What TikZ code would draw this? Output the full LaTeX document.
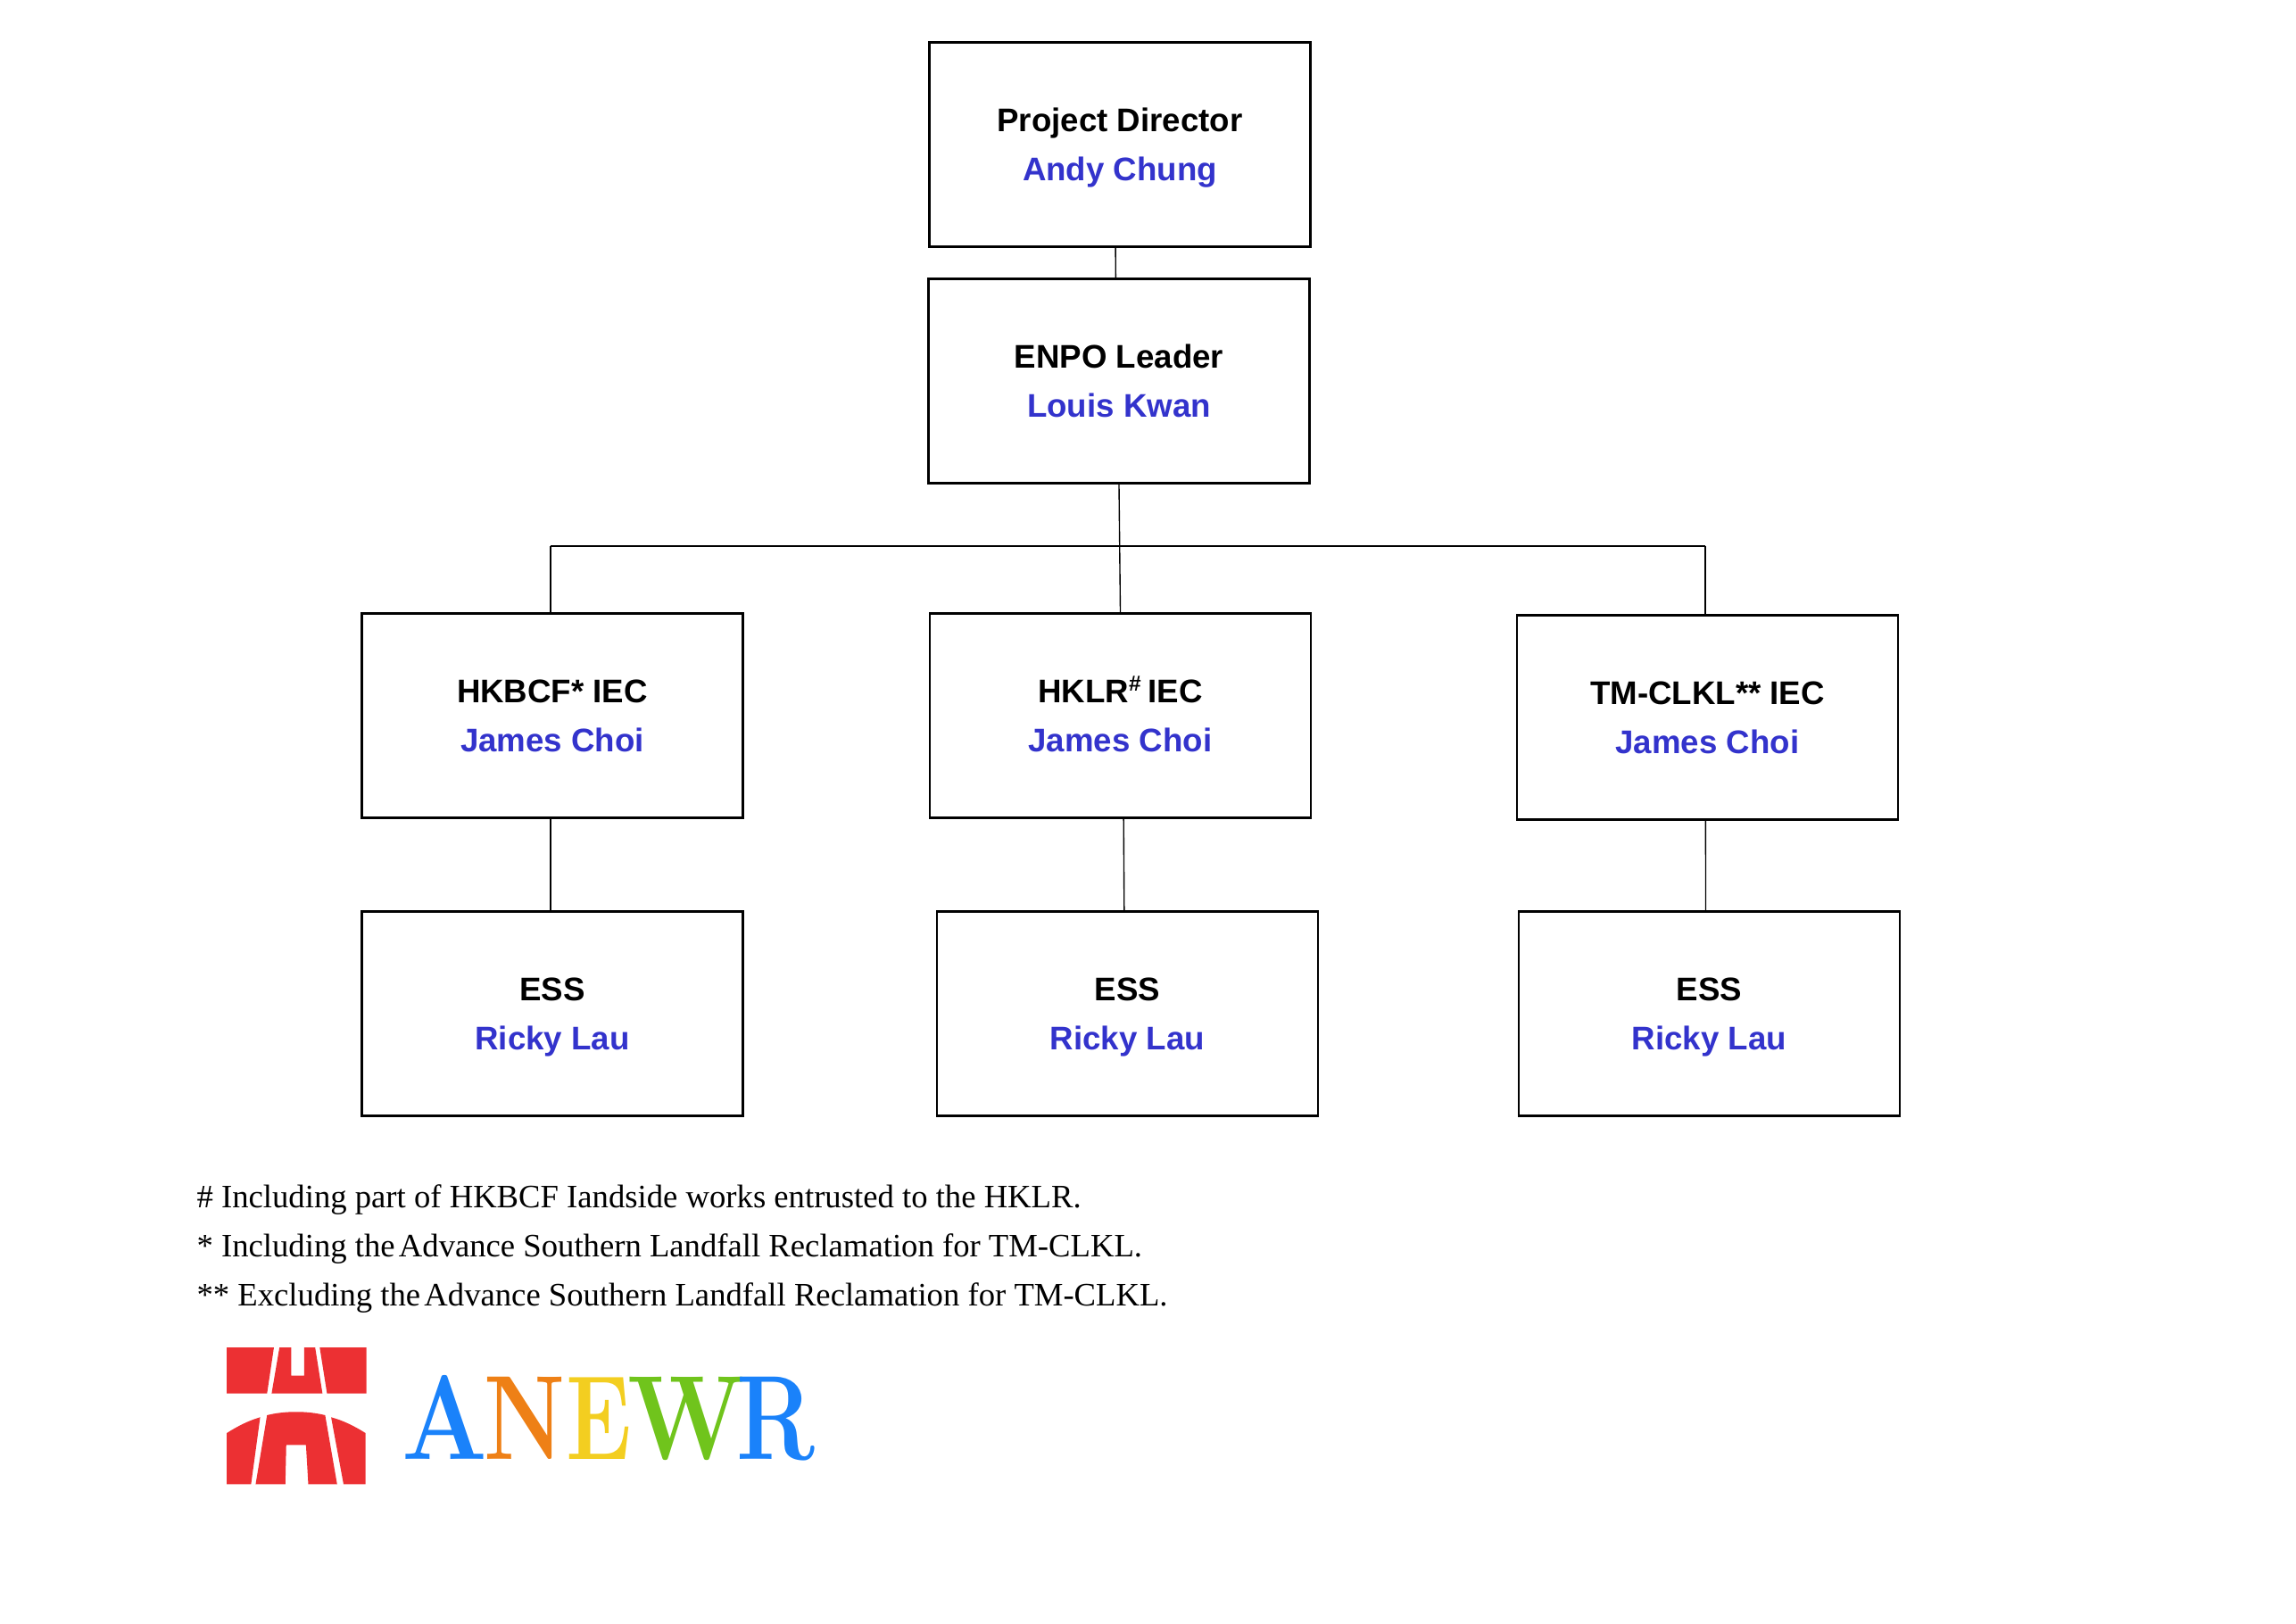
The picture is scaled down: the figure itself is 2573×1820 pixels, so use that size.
\documentclass[tikz,border=0pt]{standalone}
\usepackage{fontspec}
\newfontfamily\boxfont{Liberation Sans}
\newfontfamily\notefont{Liberation Serif}
\definecolor{nameblue}{HTML}{3333CC}
\definecolor{logored}{HTML}{EC3033}
\definecolor{logoblue}{HTML}{1A82FA}
\definecolor{logoorange}{HTML}{EE8016}
\definecolor{logoyellow}{HTML}{F3CE20}
\definecolor{logogreen}{HTML}{70C41C}
\tikzset{
  orgbox/.style={draw, line width=0.85pt, minimum width=139.7pt, minimum height=75pt, inner sep=0pt, align=center, font=\boxfont\bfseries\fontsize{12}{18}\selectfont},
  linkline/.style={line width=0.45pt},
  noteline/.style={anchor=base west, inner sep=0pt, font=\notefont\fontsize{12}{14}\selectfont},
  logoletter/.style={anchor=base, inner sep=0pt, font=\bfseries\fontsize{44}{44}\selectfont}
}
\newcommand{\orgtext}[2]{\rule{0pt}{13.2pt}#1\\\rule[-4.8pt]{0pt}{4.8pt}\textcolor{nameblue}{#2}}
\newcommand{\logoglyph}[2]{\scalebox{#1}[1]{#2}}
\begin{document}
\begin{tikzpicture}[x=0.3272pt,y=-0.3272pt]
\useasboundingbox (0,0) rectangle (2573,1820);
\node[orgbox] (director) at (1255,162) {\orgtext{Project Director}{Andy Chung}};
\node[orgbox] (enpo) at (1254,427) {\orgtext{ENPO Leader}{Louis Kwan}};
\node[orgbox] (hkbcf) at (619,802) {\orgtext{HKBCF* IEC}{James Choi}};
\node[orgbox] (hklr) at (1255.5,802) {\orgtext{HKLR\textsuperscript{\#}\,IEC}{James Choi}};
\node[orgbox] (tmclkl) at (1913.5,804) {\orgtext{TM-CLKL** IEC}{James Choi}};
\node[orgbox] (essa) at (619,1136) {\orgtext{ESS}{Ricky Lau}};
\node[orgbox] (essb) at (1263.5,1136) {\orgtext{ESS}{Ricky Lau}};
\node[orgbox] (essc) at (1915.5,1136) {\orgtext{ESS}{Ricky Lau}};
\coordinate (branchl) at (617,612);
\coordinate (branchr) at (1911,612);
\draw[linkline] ([xshift=-1.6pt]director.south) -- ([xshift=-1.2pt]enpo.north);
\draw[linkline] (enpo.south) -- (hklr.north);
\draw[linkline] (branchl) -- (branchr);
\draw[linkline] (branchl) -- (branchl |- hkbcf.north);
\draw[linkline] (branchr) -- (branchr |- tmclkl.north);
\draw[linkline] ([xshift=-0.7pt]hkbcf.south) -- ([xshift=-0.7pt]essa.north);
\draw[linkline] ([xshift=1.2pt]hklr.south) -- ([xshift=-1.2pt]essb.north);
\draw[linkline] ([xshift=-0.7pt]tmclkl.south) -- ([xshift=-1.3pt]essc.north);
\node[noteline] (notea) at (220,1353.5) {\# Including part of HKBCF Iandside works entrusted to the HKLR.};
\node[noteline] (noteb) at (220,1408.5) {* Including the\hspace{1.4pt}Advance Southern Landfall Reclamation for TM-CLKL.};
\node[noteline] (notec) at (220,1463.5) {** Excluding the\hspace{1.4pt}Advance Southern Landfall Reclamation for TM-CLKL.};
\begin{scope}[xshift=-0.4pt]
\fill[logored] (255.4,1510) -- (308.2,1510) -- (300.5,1561.7) -- (255.4,1561.7) -- cycle;
\fill[logored] (314.4,1510) -- (327.7,1510) -- (327.7,1541.7) -- (342,1541.7) -- (342,1510) -- (354.4,1510) -- (362.6,1561.7) -- (305.6,1561.7) -- cycle;
\fill[logored] (359.5,1510) -- (411.8,1510) -- (411.8,1561.7) -- (367.7,1561.7) -- cycle;
\fill[logored] (255.4,1606) .. controls (268,1598) and (280,1592) .. (292.8,1588.3) -- (282.6,1663.3) -- (255.4,1663.3) -- cycle;
\fill[logored] (300.5,1586) .. controls (320,1581) and (346,1581) .. (365.6,1586) -- (379,1663.3) -- (346.7,1663.3) -- (344.1,1619.3) -- (322,1619.3) -- (321,1663.3) -- (287.7,1663.3) -- cycle;
\fill[logored] (372.3,1588.3) .. controls (386,1592) and (398,1598) .. (410.8,1606) -- (410.8,1663.3) -- (386.2,1663.3) -- cycle;
\end{scope}
\node[logoletter, text=logoblue] (lettera) at (499,1635) {\logoglyph{0.84}{A}};
\node[logoletter, text=logoorange] (letterb) at (588,1635) {\logoglyph{0.77}{N}};
\node[logoletter, text=logoyellow] (letterc) at (671,1635) {\logoglyph{0.74}{E}};
\node[logoletter, text=logogreen] (letterd) at (769,1635) {\logoglyph{0.84}{W}};
\node[logoletter, text=logoblue] (lettere) at (869,1635) {\logoglyph{0.78}{R}};
\end{tikzpicture}
\end{document}
